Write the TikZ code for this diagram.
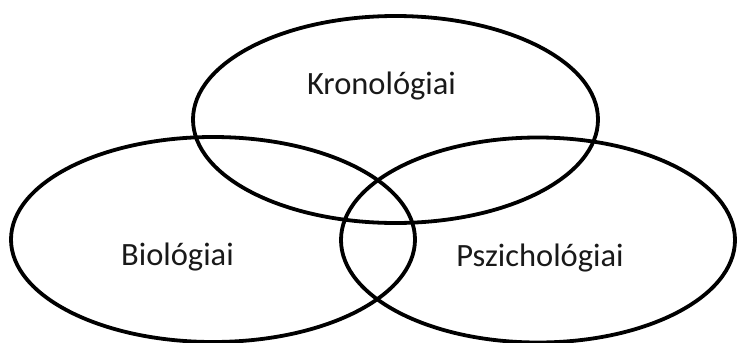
\documentclass[tikz,border=0pt]{standalone}
\usepackage{fontspec}
\setmainfont{Carlito}
\begin{document}
\begin{tikzpicture}[x=1pt,y=-1pt,
  ring/.style={draw=black,line width=3.8pt},
  lbl/.style={font=\fontsize{32.5}{38}\selectfont,text=black!90,anchor=base,inner sep=0pt}]
\useasboundingbox (0,0) rectangle (737,343);
\draw[ring] (395.5,119.5) ellipse [x radius=202.5, y radius=103.5];
\draw[ring] (213,239.5) ellipse [x radius=202, y radius=102.5];
\draw[ring] (538,240) ellipse [x radius=197, y radius=102.5];
\node[lbl] (k) at (381.5,94) {Kronológiai};
\node[lbl] (b) at (177.5,265) {Biológiai};
\node[lbl] (p) at (540,266) {Pszichológiai};
\end{tikzpicture}
\end{document}
